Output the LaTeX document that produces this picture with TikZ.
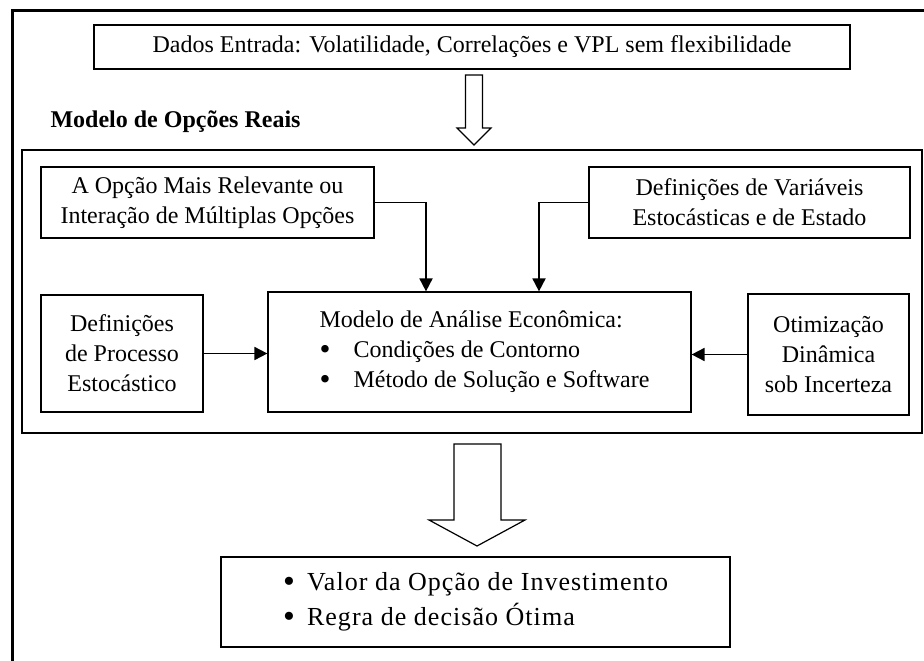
\documentclass[tikz,border=0pt]{standalone}
\usepackage{fontspec}
\setmainfont{Liberation Serif}
\usetikzlibrary{arrows.meta}
\newcommand{\marca}[1]{\makebox[#1][l]{\smash{\raisebox{-0.08em}{\scalebox{1.3}{\textbullet}}}}}
\begin{document}
\begin{tikzpicture}[x=1pt, y=-1pt,
	every node/.style={font=\fontsize{24}{30}\selectfont},
	caixa/.style={draw, line width=1.2pt, align=center, inner sep=0pt},
	liga/.style={line width=1.8pt, -{Triangle[length=13pt, width=13pt]}},
	seta/.style={line width=1.2pt, line join=miter}]
	\useasboundingbox (0,0) rectangle (924,661);
	% moldura da pagina
	\draw[line width=3pt] (935,11) -- (12,11) -- (12,670);
	\node[caixa, minimum width = 756pt, minimum height = 44pt] (entrada) at (472,47) {Dados Entrada: Volatilidade, Correlações e VPL sem flexibilidade};
	\node at (47,122)[anchor = west, font=\fontsize{24}{30}\selectfont\bfseries] (titulo) {Modelo de Opções Reais};
	\draw[seta] (465.5,75) -- (482.5,75) -- (482.5,128) -- (491,128) -- (474,145) -- (457,128) -- (465.5,128) -- cycle;
	% modelo de opcoes reais
	\node[caixa, minimum width = 900pt, minimum height = 283pt] (modelo) at (472,291.5) {};
	\node[caixa, minimum width = 333pt, minimum height = 71pt] (opcao) at (207.5,202.5) {A Opção Mais Relevante ou\\Interação de Múltiplas Opções};
	\node[caixa, minimum width = 321pt, minimum height = 71pt] (variaveis) at (749.5,202.5) {Definições de Variáveis\\Estocásticas e de Estado};
	\node[caixa, minimum width = 162pt, minimum height = 117pt] (processo) at (122,353.5) {Definições\\de Processo\\Estocástico};
	\node[caixa, minimum width = 423pt, minimum height = 120pt, align = left] (analise) at (479.5,352) {\hspace*{10pt}Modelo de Análise Econômica:\\\hspace*{10pt}\marca{34pt}Condições de Contorno\\\hspace*{10pt}\marca{34pt}Método de Solução e Software};
	\node[caixa, minimum width = 161pt, minimum height = 121pt] (otimizacao) at (828.5,354.5) {Otimização\\Dinâmica\\sob Incerteza};
	\draw[liga] (opcao.east) -| ([xshift=-53.5pt]analise.north);
	\draw[liga] (variaveis.west) -| ([xshift=59.5pt]analise.north);
	\draw[liga] (processo.east) -- (processo.east -| analise.west);
	\draw[liga] (otimizacao.west) -- (otimizacao.west -| analise.east);
	% resultado
	\draw[seta] (454,444) -- (501,444) -- (501,520) -- (525,520) -- (477,546) -- (429,520) -- (454,520) -- cycle;
	\node[caixa, minimum width = 509pt, minimum height = 90pt, align = left, font=\fontsize{26}{35}\selectfont\addfontfeatures{LetterSpace=4}] (resultado) at (475.5,602) {\marca{24pt}Valor da Opção de Investimento\\\marca{24pt}Regra de decisão Ótima};
\end{tikzpicture}
\end{document}
